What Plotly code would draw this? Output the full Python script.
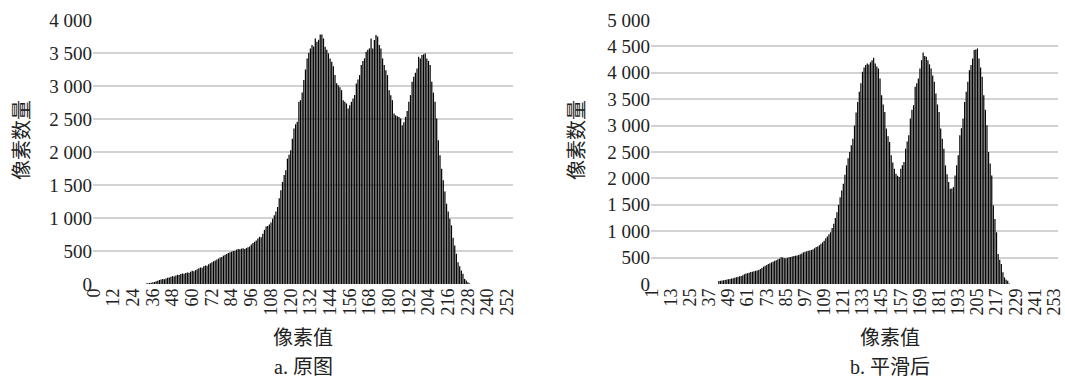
import plotly.graph_objects as go

W, H = 1065, 379

# Gray levels
levels_a = list(range(0, 256))
levels_b = list(range(1, 256))

# Pixel counts per gray level, original image (0..255)
counts_a = (
    [0] * 32
    + [8, 10, 15, 20, 25, 30, 40, 50, 60, 70, 75, 72, 85, 95, 100, 110,
       120, 115, 130, 140, 135, 150, 160, 155, 165, 175, 170, 185, 200, 195, 210, 225,
       240, 250, 245, 270, 280, 275, 300, 315, 330, 345, 355, 370, 385, 400, 410, 430,
       445, 455, 470, 480, 490, 500, 505, 520, 530, 525, 535, 540, 530, 545, 555, 570,
       600, 620, 640, 660, 690, 715, 710, 760, 820, 870, 880, 900, 930, 990, 1040, 1100,
       1166, 1300, 1420, 1546, 1650, 1723, 1900, 1960, 2027, 2200, 2355, 2420, 2457, 2760, 2785, 2900,
       3090, 3250, 3418, 3500, 3570, 3620, 3600, 3720, 3670, 3700, 3782, 3780, 3720, 3595, 3550, 3494,
       3418, 3368, 3300, 3165, 3040, 3013, 2980, 2937, 2785, 2760, 2735, 2660, 2710, 2760, 2810, 2862,
       3039, 3100, 3165, 3317, 3380, 3418, 3520, 3550, 3570, 3720, 3570, 3696, 3772, 3750, 3620, 3570,
       3418, 3317, 3240, 3165, 2937, 2860, 2785, 2583, 2558, 2540, 2532, 2507, 2406, 2450, 2532, 2620,
       2760, 2862, 3064, 3140, 3200, 3266, 3443, 3418, 3469, 3480, 3494, 3418, 3380, 3317, 3064, 2900,
       2760, 2507, 2178, 1950, 1748, 1571, 1400, 1217, 1100, 989, 888, 700, 584, 458, 331, 270,
       205, 154, 78, 53, 25, 10]
    + [0] * 26
)

# Pixel counts per gray level after smoothing (1..255)
counts_b = (
    [0] * 42
    + [55, 60, 65, 70, 75, 85, 90, 95, 105, 110, 120, 126, 135, 145, 150, 165,
       185, 200, 205, 215, 225, 233, 240, 250, 258, 265, 285, 305, 328, 345, 360, 379,
       395, 410, 423, 438, 452, 467, 480, 505, 500, 490, 486, 495, 505, 512, 520, 530,
       535, 542, 549, 565, 580, 600, 612, 620, 628, 635, 644, 660, 675, 700, 710, 735,
       760, 790, 820, 865, 900, 940, 980, 1060, 1139, 1250, 1360, 1500, 1645, 1770, 1898, 2070,
       2246, 2380, 2500, 2630, 2753, 3000, 3250, 3449, 3640, 3800, 4019, 4100, 4150, 4177, 4158, 4200,
       4240, 4285, 4177, 4120, 4082, 3892, 3576, 3400, 3259, 2943, 2800, 2690, 2437, 2300, 2183, 2088,
       2050, 2025, 2183, 2250, 2310, 2563, 2700, 2816, 3133, 3300, 3386, 3734, 3800, 3892, 4082, 4240,
       4386, 4320, 4304, 4240, 4160, 4082, 3950, 3829, 3607, 3400, 3259, 2943, 2750, 2563, 2246, 2080,
       1930, 1803, 1810, 1835, 2056, 2250, 2437, 2816, 2950, 3133, 3449, 3640, 3829, 4050, 4150, 4272,
       4430, 4440, 4462, 4272, 4100, 3924, 3576, 3300, 3006, 2500, 2280, 2056, 1487, 1230, 980, 569,
       460, 379, 221, 126, 80, 63, 10]
)
counts_b = counts_b + [0] * (len(levels_b) - len(counts_b))

xticks_a = list(range(0, 256, 12))
xticks_b = list(range(1, 256, 12))
yticks_a = list(range(0, 4001, 500))
yticks_b = list(range(0, 5001, 500))


def fmt(v):
    s = f"{v:,}"
    return s.replace(",", " ")


SERIF = "Liberation Serif, Times New Roman, serif"
MIXED = "Liberation Serif, Noto Sans CJK SC, serif"
TXT = "#222222"
GRID = "#d2d2d2"
# a hair of transparency makes plotly round bar edges to whole pixels
# instead of widening thin bars, so the gaps between bars stay visible
BAR = "rgba(0,0,0,0.995)"

fig = go.Figure()
fig.add_trace(go.Bar(x=levels_a, y=counts_a, xaxis="x", yaxis="y",
                     marker=dict(color=BAR, line=dict(width=0)),
                     showlegend=False))
fig.add_trace(go.Bar(x=levels_b, y=counts_b, xaxis="x2", yaxis="y2",
                     marker=dict(color=BAR, line=dict(width=0)),
                     showlegend=False))

ydom = [1 - 284 / H, 1 - 20 / H]
common_x = dict(type="linear", tickangle=-90, showgrid=False, zeroline=False,
                showline=False, ticks="", ticklen=0, automargin=False,
                ticklabeloverflow="allow",
                tickfont=dict(family=SERIF, size=18, color=TXT))
common_y = dict(showgrid=True, gridcolor=GRID, gridwidth=2, zeroline=False,
                showline=False, ticks="", ticklen=0, automargin=False,
                tickfont=dict(family=SERIF, size=19, color=TXT))

fig.update_layout(
    width=W, height=H, autosize=False,
    margin=dict(l=0, r=0, t=0, b=0),
    paper_bgcolor="white", plot_bgcolor="white",
    bargap=0.25,
    xaxis=dict(domain=[93 / W, 513 / W], range=[-0.5, 255.5],
               tickmode="array", tickvals=xticks_a,
               ticktext=[str(v) for v in xticks_a], anchor="y", **common_x),
    yaxis=dict(domain=ydom, range=[0, 4000], tickmode="array",
               tickvals=yticks_a, ticktext=[fmt(v) for v in yticks_a],
               anchor="x", **common_y),
    xaxis2=dict(domain=[651 / W, 1058 / W], range=[0.5, 255.5],
                tickmode="array", tickvals=xticks_b,
                ticktext=[str(v) for v in xticks_b], anchor="y2", **common_x),
    yaxis2=dict(domain=ydom, range=[0, 5000], tickmode="array",
                tickvals=yticks_b, ticktext=[fmt(v) for v in yticks_b],
                anchor="x2", **common_y),
)

# Titles and captions
labels = [
    ("像素数量", 22, 140, -90),
    ("像素数量", 577, 140, -90),
    ("像素值", 303, 338, 0),
    ("像素值", 890, 338, 0),
    ("a. 原图", 303, 367, 0),
    ("b. 平滑后", 890, 367, 0),
]
for text, px, py, ang in labels:
    fig.add_annotation(text=text, x=px / W, y=1 - py / H, xref="paper", yref="paper",
                       showarrow=False, textangle=ang, xanchor="center", yanchor="middle",
                       font=dict(family=MIXED, size=20, color=TXT))

fig.write_html("out.html")
